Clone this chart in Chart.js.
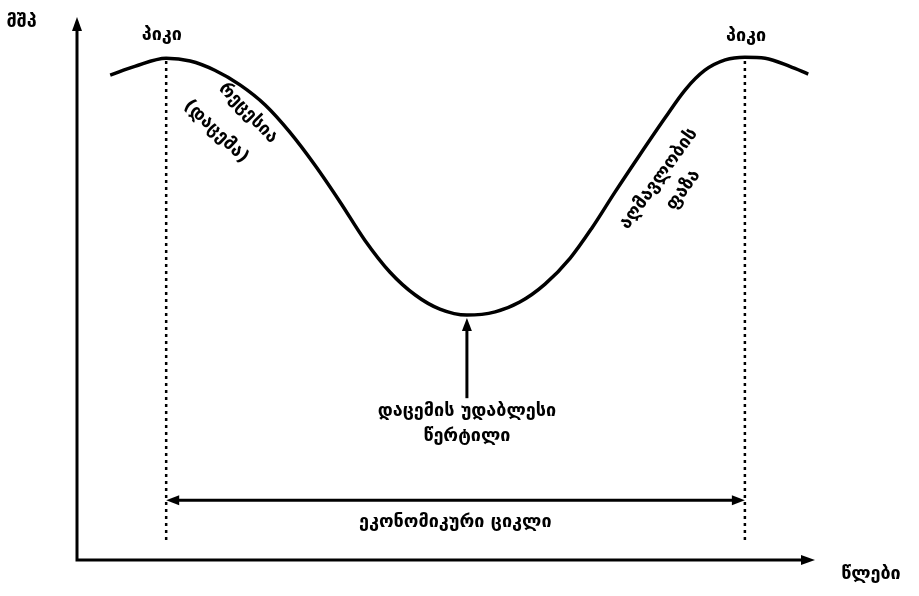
<!DOCTYPE html>
<html>
<head>
<meta charset="utf-8">
<script src="https://cdn.jsdelivr.net/npm/chart.js@4.4.0/dist/chart.umd.min.js"></script>
<style>
  html, body { margin: 0; padding: 0; background: #fff; }
</style>
</head>
<body>
<canvas id="cycleChart" width="919" height="596"></canvas>
<script>
// მრუდის წერტილები: წლები (x) და მშპ (y)
const years = [0.54, 0.94, 1.45, 1.84, 2.24, 2.65, 3.06, 3.46, 3.87, 4.28, 4.68, 5.09, 5.50, 5.90, 6.34,
               6.80, 7.20, 7.61, 8.02, 8.37, 8.75, 9.15, 9.56, 9.89, 10.21, 10.54, 10.86, 11.19, 11.59, 11.89];
const gdp   = [89.3, 90.9, 92.4, 91.9, 90.2, 87.5, 83.8, 78.8, 72.7, 65.9, 58.9, 53.0, 48.8, 46.2, 45.1,
               45.7, 47.5, 50.8, 55.6, 61.1, 67.8, 74.6, 81.4, 86.6, 90.2, 92.1, 92.6, 92.4, 90.9, 89.5];

// პიკები, დაცემის უდაბლესი წერტილი, ციკლის ისარი
const peakYears = [1.45, 10.86];
const peakGdp = [92.4, 92.6];
const troughYear = 6.34;
const troughGdp = 45.1;
const cycleLevel = 11.0;

// წარწერები
const axisLabels = ['მშპ', 'წლები'];
const peakLabel = 'პიკი';
const recessionLabel = ['რეცესია', '(დაცემა)'];
const expansionLabel = ['აღმავლობის', 'ფაზა'];
const troughLabel = ['დაცემის უდაბლესი', 'წერტილი'];
const cycleLabel = 'ეკონომიკური ციკლი';

const curve = years.map((x, i) => ({ x: x, y: gdp[i] }));

const FONT = "bold 18px 'DejaVu Sans', sans-serif";

function arrowHead(ctx, x, y, angle, len, half) {
    ctx.save();
    ctx.translate(x, y);
    ctx.rotate(angle);
    ctx.beginPath();
    ctx.moveTo(0, 0);
    ctx.lineTo(-len, -half);
    ctx.lineTo(-len, half);
    ctx.closePath();
    ctx.fill();
    ctx.restore();
}

function label(ctx, text, x, y, angle) {
    ctx.save();
    ctx.translate(x, y);
    if (angle) ctx.rotate(angle * Math.PI / 180);
    ctx.fillText(text, 0, 0);
    ctx.restore();
}

// ღერძები, ისრები და წარწერები
const diagramPlugin = {
    id: 'diagram',
    afterDatasetsDraw(chart) {
        const ctx = chart.ctx;
        const xs = chart.scales.x, ys = chart.scales.y;
        const px = v => xs.getPixelForValue(v);
        const py = v => ys.getPixelForValue(v);

        ctx.save();
        ctx.strokeStyle = '#000';
        ctx.fillStyle = '#000';
        ctx.lineWidth = 3;

        // ღერძები
        const x0 = px(0), y0 = py(0);
        ctx.beginPath();
        ctx.moveTo(x0, py(100) + 10);
        ctx.lineTo(x0, y0);
        ctx.lineTo(px(12) - 10, y0);
        ctx.stroke();
        arrowHead(ctx, x0, py(100), -Math.PI / 2, 14, 5);
        arrowHead(ctx, px(12), y0, 0, 14, 5);

        // ციკლის ორმხრივი ისარი
        arrowHead(ctx, px(peakYears[0]), py(cycleLevel), Math.PI, 13, 5);
        arrowHead(ctx, px(peakYears[1]), py(cycleLevel), 0, 13, 5);

        // უდაბლესი წერტილის ისარი
        ctx.beginPath();
        ctx.moveTo(px(troughYear), py(29.8));
        ctx.lineTo(px(troughYear), py(troughGdp) + 12);
        ctx.stroke();
        arrowHead(ctx, px(troughYear), py(troughGdp) + 3, -Math.PI / 2, 13, 5);

        ctx.font = FONT;
        ctx.textAlign = 'center';
        ctx.textBaseline = 'middle';

        label(ctx, axisLabels[0], px(-0.9), py(99.1));
        label(ctx, axisLabels[1], px(12.91), py(-2.6));
        label(ctx, peakLabel, px(1.38), py(96.7));
        label(ctx, peakLabel, px(10.88), py(96.5));
        label(ctx, recessionLabel[0], px(2.78), py(82.3), 46);
        label(ctx, recessionLabel[1], px(2.26), py(78.9), 44);
        label(ctx, expansionLabel[0], px(9.46), py(70.2), -54);
        label(ctx, expansionLabel[1], px(9.86), py(68.1), -54);
        label(ctx, troughLabel[0], px(troughYear), py(27.4));
        label(ctx, troughLabel[1], px(troughYear), py(22.7));
        label(ctx, cycleLabel, px(6.15), py(7.0));
        ctx.restore();
    }
};

const dotted = {
    borderColor: '#000',
    borderWidth: 2.5,
    borderDash: [3, 4],
    pointRadius: 0,
    fill: false
};

const config = {
    type: 'line',
    data: {
        datasets: [
            {
                data: curve,
                borderColor: '#000',
                borderWidth: 3.5,
                pointRadius: 0,
                cubicInterpolationMode: 'monotone',
                fill: false
            },
            Object.assign({ data: [{ x: peakYears[0], y: 3.7 }, { x: peakYears[0], y: peakGdp[0] }] }, dotted),
            Object.assign({ data: [{ x: peakYears[1], y: 3.7 }, { x: peakYears[1], y: peakGdp[1] }] }, dotted),
            {
                data: [{ x: peakYears[0] + 0.15, y: cycleLevel }, { x: peakYears[1] - 0.15, y: cycleLevel }],
                borderColor: '#000',
                borderWidth: 3,
                pointRadius: 0,
                fill: false
            }
        ]
    },
    options: {
        responsive: false,
        animation: false,
        layout: { padding: { left: 77, right: 104, top: 17, bottom: 36 } },
        plugins: {
            legend: { display: false },
            tooltip: { enabled: false }
        },
        scales: {
            x: { type: 'linear', min: 0, max: 12, display: false },
            y: { min: 0, max: 100, display: false }
        }
    },
    plugins: [diagramPlugin]
};

new Chart(document.getElementById('cycleChart').getContext('2d'), config);
</script>
</body>
</html>
